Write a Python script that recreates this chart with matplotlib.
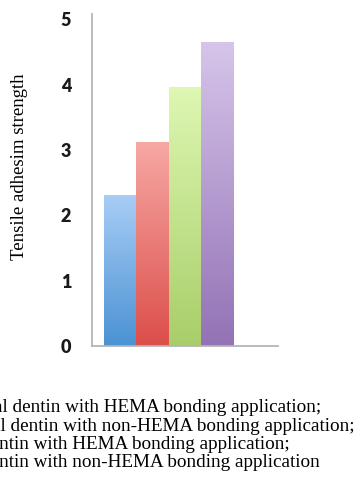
import matplotlib.pyplot as plt
import matplotlib.colors as mcolors
import numpy as np

# 数据
groups = ['A', 'B', 'C', 'D']
strength = [2.31, 3.12, 3.96, 4.65]
top_colors = ['#a8cdf6', '#f7a8a4', '#def7b2', '#d6c5ea']
bottom_colors = ['#4a92d3', '#dc4e4a', '#a8ce69', '#9372b5']
yticks = [0, 1, 2, 3, 4, 5]
notes = [
    ('Superficial ', 'dentin with HEMA bonding application;'),
    ('Superficial ', 'dentin with non-HEMA bonding application;'),
    ('Deep de', 'ntin with HEMA bonding application;'),
    ('Deep de', 'ntin with non-HEMA bonding application'),
]
note_start = [12, 11, -1, -1]   # 可见部分起点 (像素)

fig = plt.figure(figsize=(3.64, 4.90), dpi=100)
ax = fig.add_axes([92 / 364, 1 - 346 / 490, 186 / 364, 332 / 490])

x = np.arange(len(groups))
bars = ax.bar(x, strength, width=1.0, color='none', edgecolor='none')

# 渐变填充
grad = np.linspace(0, 1, 256).reshape(-1, 1)
for bar, c_top, c_bot in zip(bars, top_colors, bottom_colors):
    cmap = mcolors.LinearSegmentedColormap.from_list('g', [c_bot, c_top])
    bx, by = bar.get_x(), bar.get_y()
    w, h = bar.get_width(), bar.get_height()
    im = ax.imshow(grad, cmap=cmap, aspect='auto', origin='lower',
                   extent=[bx, bx + w, by, by + h], zorder=2)
    im.set_clip_path(bar)

ax.set_xlim(-0.87, 4.89)
ax.set_ylim(0, 5.08)
ax.set_yticks(yticks)
ax.set_yticklabels([str(t) for t in yticks], fontfamily='Lato',
                   fontweight='heavy', fontsize=13, color='#1a1a1a')
ax.tick_params(axis='y', length=0, pad=15)
ax.set_xticks([])

for side in ['top', 'right']:
    ax.spines[side].set_visible(False)
for side in ['left', 'bottom']:
    ax.spines[side].set_color('#b5b5b5')
    ax.spines[side].set_linewidth(1.3)

fig.text(20 / 364, 1 - 167 / 490, 'Tensile adhesim strength', rotation=90,
         ha='center', va='center', fontfamily='Liberation Serif', fontsize=13.5)

# 图注 (左侧被裁掉)
renderer = fig.canvas.get_renderer()
baselines = [412, 431, 449, 467]
fs_note = 13.8
for (hidden, shown), x0, yy in zip(notes, note_start, baselines):
    probe = fig.text(0, 0, hidden, fontfamily='Liberation Serif', fontsize=fs_note)
    wpx = probe.get_window_extent(renderer).width
    probe.remove()
    fig.text((x0 - wpx) / 364, 1 - yy / 490, hidden + shown,
             ha='left', va='baseline', fontfamily='Liberation Serif',
             fontsize=fs_note)

fig.savefig('out.png', dpi=100)
